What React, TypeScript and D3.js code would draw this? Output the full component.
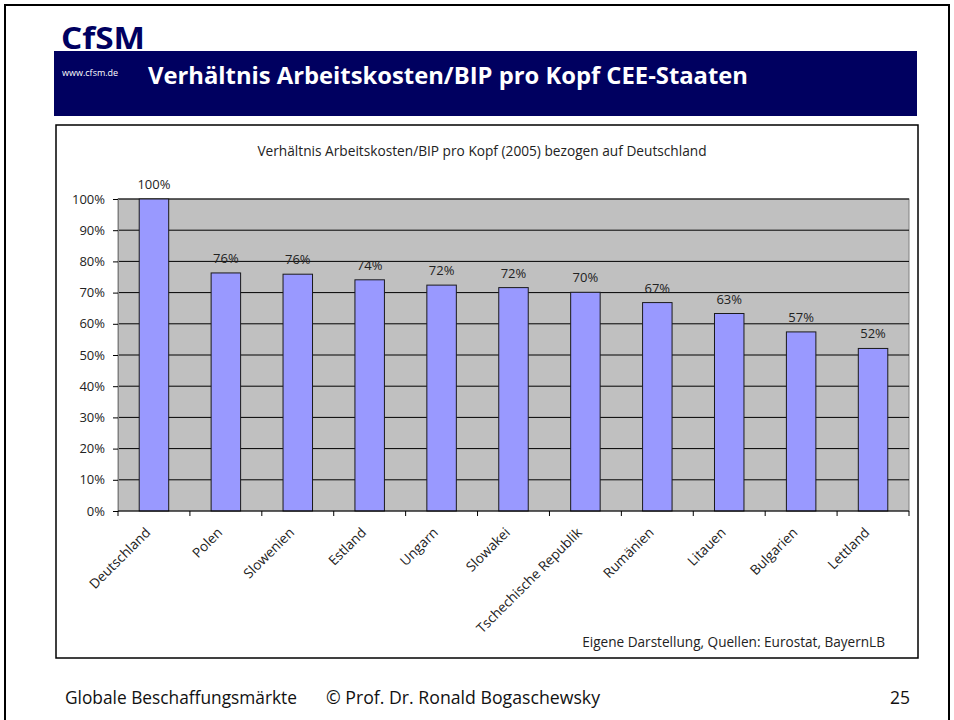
import { useEffect, useRef } from "react";
import * as d3 from "d3";

const countries: string[] = [
  "Deutschland",
  "Polen",
  "Slowenien",
  "Estland",
  "Ungarn",
  "Slowakei",
  "Tschechische Republik",
  "Rumänien",
  "Litauen",
  "Bulgarien",
  "Lettland",
];

// ratio labour cost / GDP per capita, Germany = 100
const ratios: number[] = [100, 76.3, 75.9, 74.1, 72.4, 71.6, 70.1, 66.8, 63.3, 57.4, 52.1];

const yTicks: number[] = [0, 10, 20, 30, 40, 50, 60, 70, 80, 90, 100];

const FONT = "'Open Sans', 'DejaVu Sans', sans-serif";

export default function App() {
  const svgRef = useRef<SVGSVGElement | null>(null);

  useEffect(() => {
    if (!svgRef.current) return;
    const svg = d3.select(svgRef.current);
    svg.selectAll("*").remove();

    // slide frame
    svg
      .append("path")
      .attr("d", "M5,725 V5 H949 V725")
      .attr("fill", "none")
      .attr("stroke", "#000")
      .attr("stroke-width", 2);

    // header
    svg
      .append("rect")
      .attr("x", 54)
      .attr("y", 51)
      .attr("width", 863)
      .attr("height", 65)
      .attr("fill", "#000060");

    svg
      .append("text")
      .attr("x", 61)
      .attr("y", 49)
      .attr("font-family", FONT)
      .attr("font-weight", "bold")
      .attr("font-size", 31)
      .attr("textLength", 84)
      .attr("lengthAdjust", "spacingAndGlyphs")
      .attr("fill", "#000060")
      .text("CfSM");

    svg
      .append("text")
      .attr("x", 62)
      .attr("y", 76)
      .attr("font-family", FONT)
      .attr("font-size", 9)
      .attr("fill", "#fff")
      .text("www.cfsm.de");

    svg
      .append("text")
      .attr("x", 148)
      .attr("y", 84)
      .attr("font-family", FONT)
      .attr("font-weight", "bold")
      .attr("font-size", 23)
      .attr("textLength", 600)
      .attr("lengthAdjust", "spacingAndGlyphs")
      .attr("fill", "#fff")
      .text("Verhältnis Arbeitskosten/BIP pro Kopf CEE-Staaten");

    // chart box
    svg
      .append("rect")
      .attr("x", 56)
      .attr("y", 125)
      .attr("width", 862)
      .attr("height", 533)
      .attr("fill", "#fff")
      .attr("stroke", "#000")
      .attr("stroke-width", 1.5);

    svg
      .append("text")
      .attr("x", 482)
      .attr("y", 156)
      .attr("text-anchor", "middle")
      .attr("font-family", FONT)
      .attr("font-size", 13.7)
      .attr("fill", "#222")
      .text("Verhältnis Arbeitskosten/BIP pro Kopf (2005) bezogen auf Deutschland");

    const plot = { left: 118, right: 909, top: 199, bottom: 511 };

    const x = d3
      .scaleBand()
      .domain(countries)
      .range([plot.left, plot.right])
      .paddingInner(0.59)
      .paddingOuter(0.295);

    const xTick = d3.scaleBand().domain(countries).range([plot.left, plot.right]);

    const y = d3.scaleLinear().domain([0, 100]).range([plot.bottom, plot.top]);

    const g = svg.append("g");

    g.append("rect")
      .attr("x", plot.left)
      .attr("y", plot.top)
      .attr("width", plot.right - plot.left)
      .attr("height", plot.bottom - plot.top)
      .attr("fill", "#c0c0c0")
      .attr("stroke", "#808080");

    g.selectAll("line.grid")
      .data(yTicks.filter((t) => t > 0))
      .enter()
      .append("line")
      .attr("class", "grid")
      .attr("x1", plot.left)
      .attr("x2", plot.right)
      .attr("y1", (d) => y(d))
      .attr("y2", (d) => y(d))
      .attr("stroke", "#000")
      .attr("stroke-width", 1);

    g.selectAll("rect.bar")
      .data(ratios)
      .enter()
      .append("rect")
      .attr("class", "bar")
      .attr("x", (_, i) => x(countries[i]) ?? 0)
      .attr("y", (d) => y(d))
      .attr("width", x.bandwidth())
      .attr("height", (d) => plot.bottom - y(d))
      .attr("fill", "#9999ff")
      .attr("stroke", "#1a1a1a")
      .attr("stroke-width", 1);

    g.selectAll("text.val")
      .data(ratios)
      .enter()
      .append("text")
      .attr("class", "val")
      .attr("x", (_, i) => (x(countries[i]) ?? 0) + x.bandwidth() / 2)
      .attr("y", (d) => y(d) - 10)
      .attr("text-anchor", "middle")
      .attr("font-family", FONT)
      .attr("font-size", 13)
      .attr("fill", "#222")
      .text((d) => `${Math.round(d)}%`);

    // y axis
    const yAxis = g
      .append("g")
      .attr("transform", `translate(${plot.left},0)`)
      .call(
        d3
          .axisLeft(y)
          .tickValues(yTicks)
          .tickSize(5)
          .tickPadding(8)
          .tickFormat((d) => `${d}%`)
      );
    yAxis.select(".domain").attr("stroke", "#808080");
    yAxis.selectAll("line").attr("stroke", "#000");
    yAxis
      .selectAll("text")
      .attr("font-family", FONT)
      .attr("font-size", 13)
      .attr("fill", "#222");

    // x axis
    const xAxis = g.append("g").attr("transform", `translate(0,${plot.bottom})`);
    xAxis
      .append("line")
      .attr("x1", plot.left)
      .attr("x2", plot.right)
      .attr("stroke", "#000");
    xAxis
      .selectAll("line.tick")
      .data(countries.concat(["end"]))
      .enter()
      .append("line")
      .attr("class", "tick")
      .attr("x1", (d, i) => (i < countries.length ? xTick(d) ?? 0 : plot.right))
      .attr("x2", (d, i) => (i < countries.length ? xTick(d) ?? 0 : plot.right))
      .attr("y1", 0)
      .attr("y2", 5)
      .attr("stroke", "#000");

    xAxis
      .selectAll("text")
      .data(countries)
      .enter()
      .append("text")
      .attr(
        "transform",
        (d) => `translate(${(xTick(d) ?? 0) + xTick.bandwidth() / 2 - 6},19) rotate(-45)`
      )
      .attr("text-anchor", "end")
      .attr("dy", "0.35em")
      .attr("font-family", FONT)
      .attr("font-size", 13.6)
      .attr("fill", "#222")
      .text((d) => d);

    svg
      .append("text")
      .attr("x", 885)
      .attr("y", 647)
      .attr("text-anchor", "end")
      .attr("font-family", FONT)
      .attr("font-size", 13.6)
      .attr("fill", "#222")
      .text("Eigene Darstellung, Quellen: Eurostat, BayernLB");

    // footer
    const footer = svg
      .append("g")
      .attr("font-family", FONT)
      .attr("font-size", 17.5)
      .attr("fill", "#111");
    footer
      .append("text")
      .attr("x", 65)
      .attr("y", 704)
      .attr("textLength", 232)
      .attr("lengthAdjust", "spacingAndGlyphs")
      .text("Globale Beschaffungsmärkte");
    footer
      .append("text")
      .attr("x", 326)
      .attr("y", 704)
      .attr("textLength", 274)
      .attr("lengthAdjust", "spacingAndGlyphs")
      .text("© Prof. Dr. Ronald Bogaschewsky");
    footer
      .append("text")
      .attr("x", 910)
      .attr("y", 704)
      .attr("text-anchor", "end")
      .text("25");
  }, []);

  return (
    <svg
      ref={svgRef}
      width={954}
      height={720}
      style={{ position: "absolute", left: 0, top: 0, background: "#fff" }}
    ></svg>
  );
}
